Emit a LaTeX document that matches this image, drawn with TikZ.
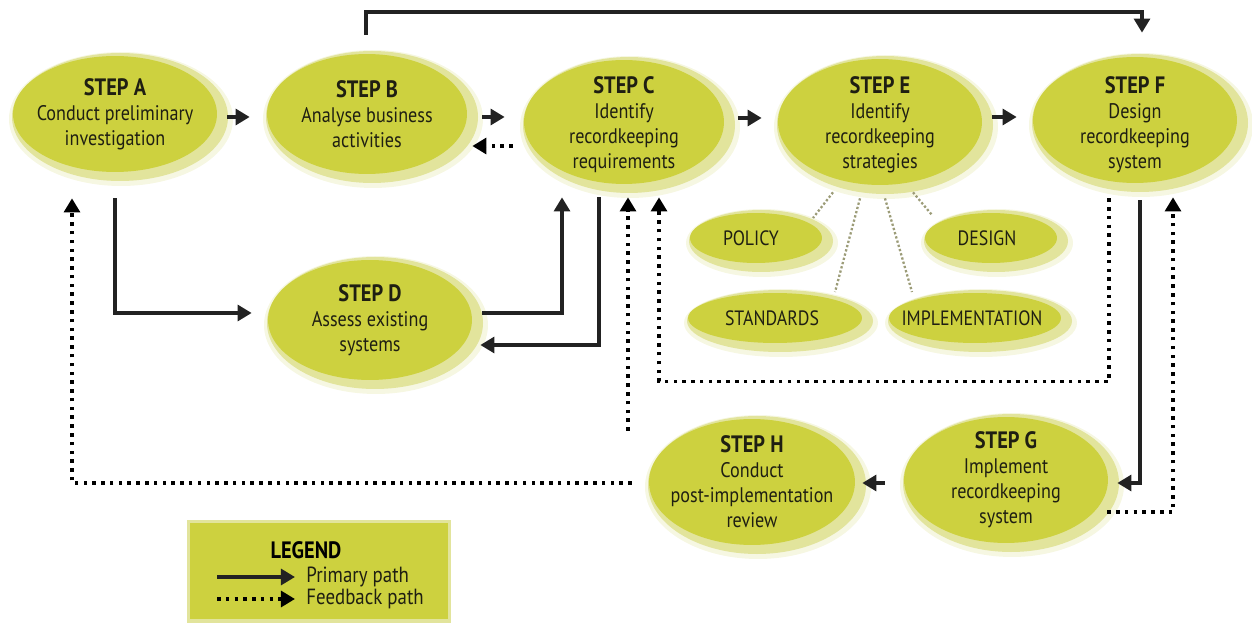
\documentclass[tikz,border=0pt]{standalone}
\usepackage{fontspec}
\setmainfont{PT Sans}[FakeStretch=0.86]
\usetikzlibrary{shapes.geometric,arrows.meta,calc}

\definecolor{stepfill}{HTML}{CDD13F}
\definecolor{stephalo}{HTML}{E2E49C}
\definecolor{stepglow}{HTML}{F6F7E2}
\definecolor{bodytext}{HTML}{1F1F12}
\definecolor{linecol}{HTML}{222222}
\definecolor{subline}{HTML}{9C9C78}

% a filled ellipse with its soft lighter rim, named #1, centre #2, radii #3/#4 (px)
\newcommand\blob[4]{%
  \fill[stepglow] ($(#2)+(6,5)$) ellipse [x radius=#3+10, y radius=#4+9];
  \fill[stephalo] ($(#2)+(5,3)$) ellipse [x radius=#3+6, y radius=#4+6];
  \node[ellipse, fill=stepfill, inner sep=0pt, minimum width=#3*0.04cm,
        minimum height=#4*0.04cm] (#1) at (#2) {};%
}
\newcommand\steptitle[1]{{\usefont{TU}{\rmdefault}{b}{n}\fontsize{13.5}{14.2}\selectfont #1}}

\begin{document}
\begin{tikzpicture}[x=0.02cm, y=-0.02cm,
  steptext/.style={align=center, text=bodytext, inner sep=0pt,
    font=\fontsize{12}{14.2}\selectfont},
  title/.style={font=\fontsize{13.5}{14}\selectfont\bfseries, text=black},
  subtext/.style={text=bodytext, inner sep=0pt, font=\fontsize{11.8}{13}\selectfont},
  legtext/.style={text=bodytext, inner sep=0pt, font=\fontsize{12.5}{13}\selectfont},
  primary/.style={draw=linecol, line width=2.1pt,
    -{Triangle[length=8pt,width=9pt]}},
  feedback/.style={draw=black, line width=2pt, dash pattern=on 2pt off 3pt,
    -{Triangle[length=8pt,width=9pt]}},
  subconn/.style={draw=subline, line width=1.3pt, dash pattern=on 1.3pt off 1.2pt},
]
\useasboundingbox (0,0) rectangle (1252,628);

% ---- step ellipses ----
\blob{A}{115,114}{102}{58}
\blob{B}{367,114}{100}{60}
\blob{C}{624,122}{100}{62}
\blob{E}{880,122}{102}{63}
\blob{F}{1135,120}{102}{63}
\blob{D}{370,320}{102}{60}
\blob{H}{752,482}{103}{63}
\blob{G}{1006,480}{102}{63}

% ---- strategy ellipses ----
\blob{POL}{756,238}{66}{25}
\blob{DES}{991,238}{66}{25}
\blob{STD}{775,318}{87}{25}
\blob{IMP}{975,318}{86}{25}

% ---- step texts ----
\node[steptext] (A-t) at (A) {\steptitle{STEP A}\\Conduct preliminary\\investigation};
\node[steptext] (B-t) at (B) {\steptitle{STEP B}\\Analyse business\\activities};
\node[steptext] (C-t) at ($(C)+(0,3)$) {\steptitle{STEP C}\\Identify\\recordkeeping\\requirements};
\node[steptext] (E-t) at ($(E)+(0,3)$) {\steptitle{STEP E}\\Identify\\recordkeeping\\strategies};
\node[steptext] (F-t) at ($(F)+(0,5)$) {\steptitle{STEP F}\\Design\\recordkeeping\\system};
\node[steptext] (D-t) at (D) {\steptitle{STEP D}\\Assess existing\\systems};
\node[steptext] (H-t) at (H) {\steptitle{STEP H}\\Conduct\\post-implementation\\review};
\node[steptext] (G-t) at (G) {\steptitle{STEP G}\\Implement\\recordkeeping\\system};

\node[subtext] (POL-t) at ($(POL)+(-5,0)$) {POLICY};
\node[subtext] (DES-t) at ($(DES)+(-4,0)$) {DESIGN};
\node[subtext] (STD-t) at ($(STD)+(-3,0)$) {STANDARDS};
\node[subtext] (IMP-t) at ($(IMP)+(-3,0)$) {IMPLEMENTATION};

% ---- strategy links ----
\draw[subconn] ($(E.south)+(-47,7)$) -- ($(POL)+(57,-20)$);
\draw[subconn] ($(E.south)+(-20,13)$) -- ($(STD)+(60,-26)$);
\draw[subconn] ($(E.south)+(5,13)$) -- ($(IMP)+(-63,-26)$);
\draw[subconn] ($(E.south)+(33,7)$) -- ($(DES)+(-59,-23)$);

% ---- primary paths ----
\draw[primary] ($(A.east)+(10,3)$) -- ($(B.west)+(-17,3)$);
\draw[primary] ($(B.east)+(15,3)$) -- ($(C.west)+(-19,-5)$);
\draw[primary] ($(C.east)+(14,-4)$) -- ($(E.west)+(-16,-4)$);
\draw[primary] ($(E.east)+(10,-5)$) -- ($(F.west)+(-16,-3)$);
\draw[primary] ($(B.north)+(-1,-19)$) -- ++(0,-23) -| ($(F.north)+(7,-24)$);
\draw[primary] ($(A.south)+(0,26)$) |- ($(D.west)+(-16,-7)$);
\draw[primary] ($(D.east)+(10,-7)$) -| ($(C.south)+(-62,13)$);
\draw[primary] ($(C.south)+(-25,13)$) |- ($(D.east)+(8,25)$);
\draw[primary] ($(F.south)+(5,17)$) |- ($(G.east)+(9,3)$);
\draw[primary] ($(G.west)+(-19,3)$) -- ($(H.east)+(7,1)$);

% ---- feedback paths ----
\draw[feedback] ($(C.west)+(-11,24)$) -- ($(B.east)+(5,32)$);
\draw[feedback] ($(F.south)+(-26,15)$) -- ++(0,183) -| ($(C.south)+(35,13)$);
\draw[feedback] ($(G.east)+(-1,32)$) -| ($(F.south)+(38,14)$);
\draw[feedback] ($(H.north)+(-124,12)$) -- ($(C.south)+(4,13)$);
\draw[feedback] ($(H.west)+(-17,1)$) -| ($(A.south)+(-43,26)$);

% ---- legend ----
\fill[stephalo] (187,520) rectangle (451,623);
\node[rectangle, fill=stepfill, inner sep=0pt, minimum width=5.16cm,
      minimum height=1.94cm] (LEG) at (319,571) {};
\node[title, inner sep=0pt] (LEG-t) at (306,550) {LEGEND};
\node[legtext, anchor=west] (lp) at (306,577) {Primary path};
\node[legtext, anchor=west] (lf) at (306,599) {Feedback path};
\coordinate (lps) at (217,577);
\coordinate (lfs) at (217,599);
\draw[primary] (lps) -- ($(lp.west)+(-11,0)$);
\draw[feedback] (lfs) -- ($(lf.west)+(-11,0)$);
\end{tikzpicture}
\end{document}
